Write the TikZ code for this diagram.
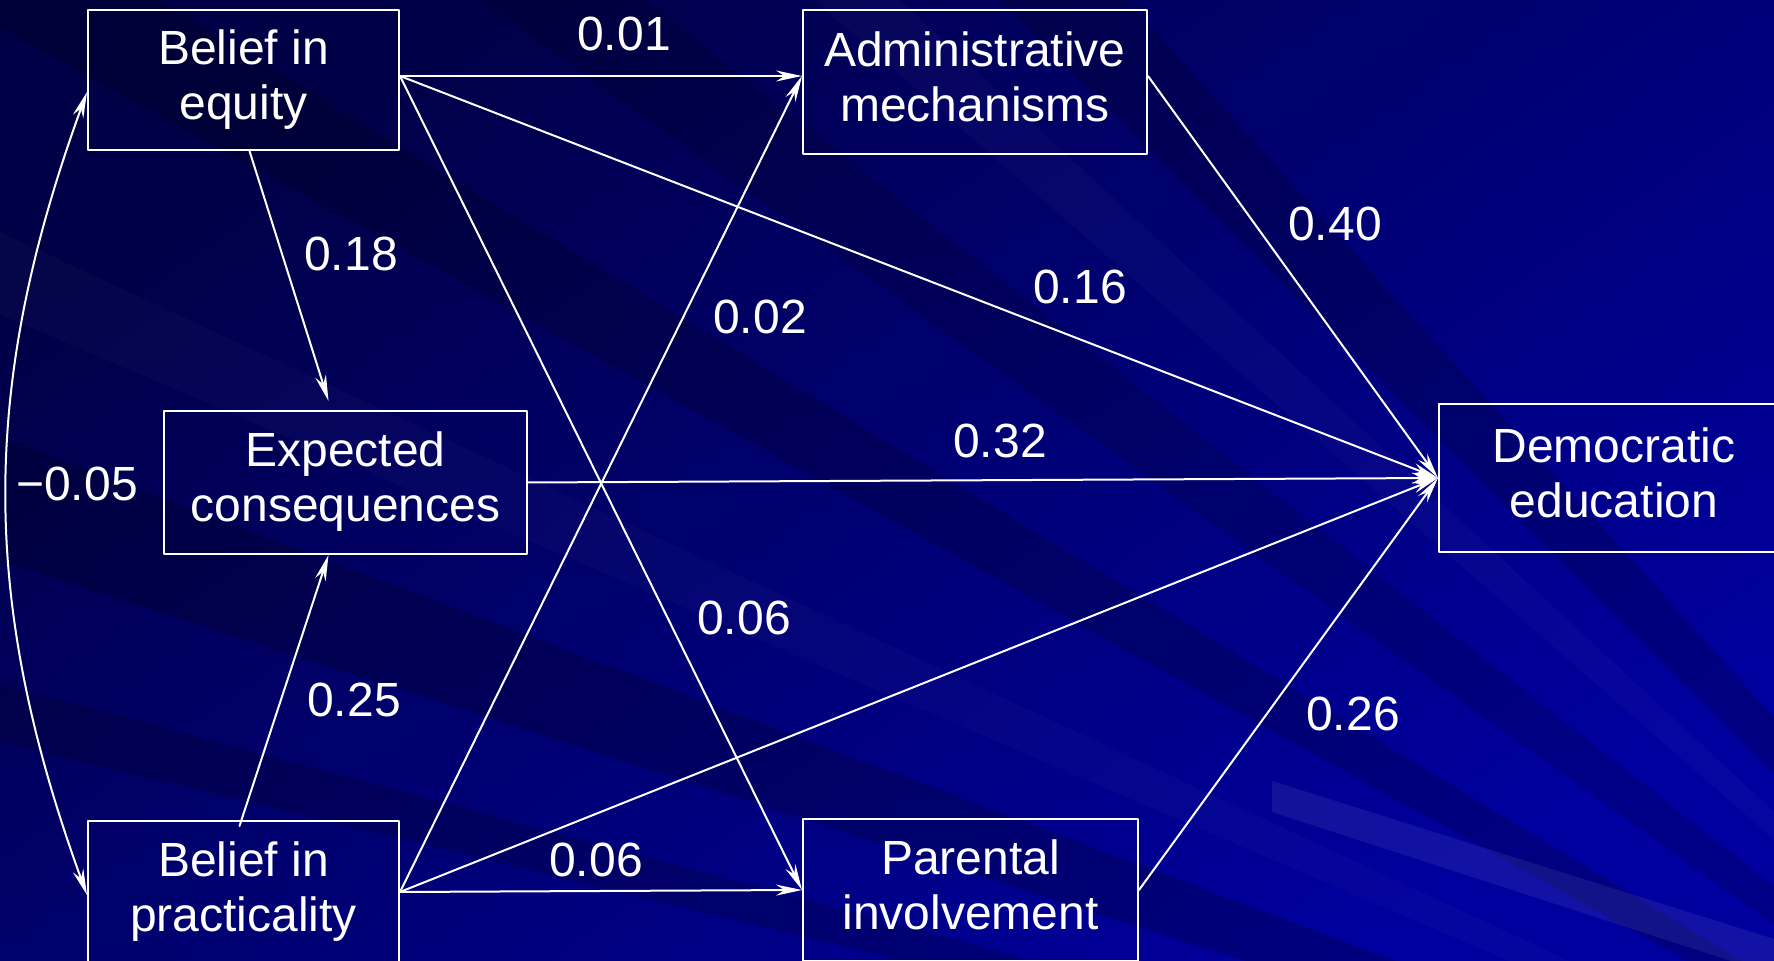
\documentclass[tikz,border=0pt]{standalone}
\usepackage{fontspec}
\setmainfont{Liberation Sans}
\usetikzlibrary{arrows.meta,calc}

\definecolor{bgdark}{RGB}{0,0,70}
\definecolor{bgblue}{RGB}{0,0,158}

\tikzset{
  var/.style={draw=white, text=white, align=center, inner sep=0pt,
    font=\fontsize{24}{27.5}\selectfont, execute at end node={\rule[-5.5pt]{0pt}{1pt}}},
  coef/.style={text=white, inner sep=0pt, font=\fontsize{24}{27.5}\selectfont},
  link/.style={->, draw=white, line width=1pt},
}

\begin{document}
\begin{tikzpicture}[line width=1pt, line cap=round, line join=round, >={Stealth[length=13pt,width=5.5pt]}, x=0.5pt, y=-0.5pt]
  \clip (0,0) rectangle (1774,961);
  % background
  \shade[top color=bgdark, bottom color=bgblue, shading angle=35] (0,0) rectangle (1774,961);
  \foreach \ya/\yb/\op in {-1800/-1500/0.18, -900/-700/0.15, -400/-250/0.18, 250/400/0.2, 550/620/0.18}
    \fill[black, opacity=\op] (2300,1300) -- (-500,\ya) -- (-500,\yb) -- cycle;
  \foreach \ya/\yb/\op in {-1300/-1150/0.025, 0/100/0.02}
    \fill[white, opacity=\op] (2300,1300) -- (-500,\ya) -- (-500,\yb) -- cycle;
  \fill[white, opacity=0.07] (1272,781) -- (1774,939) -- (1774,975) -- (1272,812) -- cycle;

  % variables
  \node[var, minimum width=155.5pt, minimum height=70pt] (BE) at (243.5,80) {Belief in\\equity};
  \node[var, minimum width=172pt, minimum height=72pt] (AM) at (975,82) {Administrative\\mechanisms};
  \node[var, minimum width=181.5pt, minimum height=71.5pt] (EC) at (345.5,482.5) {Expected\\consequences};
  \node[var, minimum width=175pt, minimum height=74pt] (DE) at (1614,478) {Democratic\\education};
  \node[var, minimum width=155.5pt, minimum height=71pt] (BP) at (243.5,892) {Belief in\\practicality};
  \node[var, minimum width=167.5pt, minimum height=71pt] (PI) at (970.5,890) {Parental\\involvement};

  \coordinate (beout) at ([yshift=2pt]BE.east);
  \coordinate (amin) at ([yshift=3pt]AM.west);
  \coordinate (amout) at ([yshift=3pt]AM.east);

  % paths
  \draw[link] (beout) -- (amin);
  \draw[link] (beout) -- (DE.west);
  \draw[link] (beout) -- (PI.west);
  \draw[link] ([xshift=3pt]BE.south) -- ([xshift=-8.5pt,yshift=4.5pt]EC.north);
  \draw[link] ([xshift=-2pt,yshift=-3pt]BP.north) -- ([xshift=-8.5pt]EC.south);
  \draw[link] (BP.east) -- (amin);
  \draw[link] (BP.east) -- (DE.west);
  \draw[link] (BP.east) -- (PI.west);
  \draw[link] (EC.east) -- (DE.west);
  \draw[link] (amout) -- (DE.west);
  \draw[link] (PI.east) -- (DE.west);
  \draw[<->, white] ([yshift=-6pt]BE.west) to[bend right=20] ([yshift=-1.5pt]BP.west);

  % coefficients
  \node[coef] (c1) at (624,34) {0.01};
  \node[coef] (c2) at (351,254) {0.18};
  \node[coef] (c3) at (1080,287) {0.16};
  \node[coef] (c4) at (760,317) {0.02};
  \node[coef] (c5) at (1335,224) {0.40};
  \node[coef] (c6) at (1000,441) {0.32};
  \node[coef] (c7) at (744,618) {0.06};
  \node[coef] (c8) at (354,700) {0.25};
  \node[coef] (c9) at (1353,714) {0.26};
  \node[coef] (c10) at (596,860) {0.06};
  \node[coef] (c11) at (77,484) {−0.05};
\end{tikzpicture}
\end{document}
